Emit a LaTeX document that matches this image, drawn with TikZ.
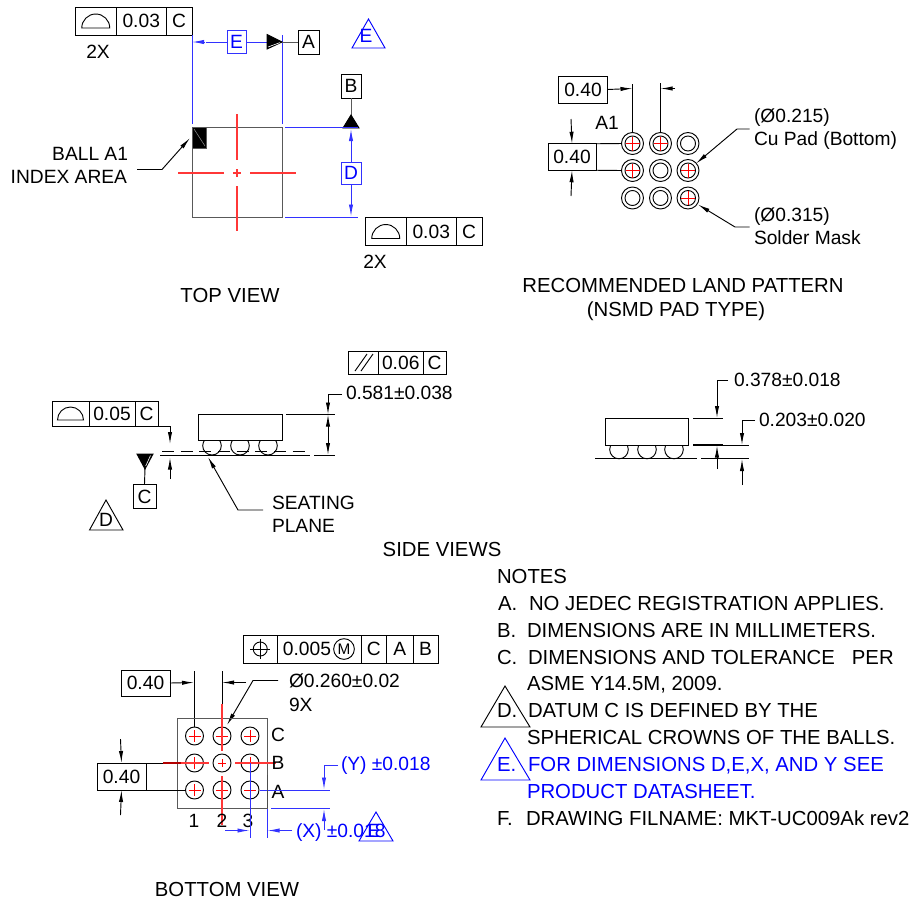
\documentclass[tikz,border=0pt]{standalone}
\usepackage{fontspec}
\setmainfont{Liberation Sans}
\usetikzlibrary{arrows.meta,calc,positioning}
\definecolor{cenred}{RGB}{255,55,55}
\definecolor{dimblue}{RGB}{50,50,255}
\tikzset{
  lbl/.style={font=\fontsize{14.4}{16}\selectfont,text height=10.3pt,text depth=0pt,inner sep=0pt,outer sep=0pt},
  big/.style={font=\fontsize{15.25}{17}\selectfont,text height=10.9pt,text depth=0pt,inner sep=0pt,outer sep=0pt},
  cellw/.style={minimum width=#1*0.75pt},
  cellh/.style={minimum height=#1*0.75pt},
  fcfcell/.style={lbl,draw,anchor=west},
  dimbox/.style={lbl,draw,anchor=center},
  tip/.style={-{Latex[length=9pt,width=3.2pt]}},
  bluedim/.style={draw=dimblue},
  outline/.style={draw=black!65},
  cenline/.style={draw=cenred,line width=0.85pt},
  crossline/.style={draw=red},
  sliver/.style={draw=white,line width=0.45pt},
}
\begin{document}
\begin{tikzpicture}[x=0.75pt,y=-0.75pt,line width=0.7pt]
\useasboundingbox (0,0) rectangle (910,901);
% top view
\coordinate (TopNW) at (192,127.5);
\coordinate (TopNE) at (282,127.5);
\coordinate (TopSW) at (192,217.5);
\coordinate (TopSE) at (282,217.5);
\coordinate (TopC) at (237,173);
\draw[outline] (TopNW) -- (TopNE) -- (TopSE) -- (TopSW) -- cycle;
\draw[cenline] (237,114) -- (237,160) (237,186) -- (237,231) (178,173) -- (224,173) (250,173) -- (296,173)
     ($(TopC)+(-4,0)$) -- ($(TopC)+(4,0)$) ($(TopC)+(0,-4)$) -- ($(TopC)+(0,4)$);
\draw[outline,fill=black] (TopNW) rectangle (206,148);
\draw[black!45,line width=0.4pt] (194,129) -- (205,146);
\node[fcfcell,cellw=41.5,cellh=28] (TopFcfA) at (75,21) {};
\node[fcfcell,cellw=49.5,cellh=28,right=0pt of TopFcfA] (TopFcfB) {0.03};
\node[fcfcell,cellw=26,cellh=28,right=0pt of TopFcfB] (TopFcfC) {C};
\draw ($(TopFcfA.center)+(-14,7)$) arc (180:360:14) -- cycle;
\node[lbl] (TopTwoA) at (98,52) {2X};
\node[dimbox,cellw=19,cellh=22.5,bluedim,text=blue] (DimE) at (236.5,42) {E};
\node[dimbox,cellw=21,cellh=24] (DatumA) at (308.5,42) {A};
\node[dimbox,cellw=20,cellh=24] (DatumB) at (351,86) {B};
\node[dimbox,cellw=20,cellh=22,bluedim,text=blue] (DimD) at (351,173) {D};
\coordinate (ExtEL) at (192,35);
\coordinate (ExtER) at (282,35);
\draw[bluedim] (ExtEL) -- (192,124) (ExtER) -- (282,124);
\draw[bluedim,tip] (205,42) -- (192,42);
\draw[bluedim] (DimE.east) -- (267,42) (206,42) -- (DimE.west);
\draw[fill=black] (267,34.5) -- (282,42) -- (267,49) -- cycle;
\draw[sliver] (268,47) -- (280,42.6);
\draw[outline] (282,42) -- (DatumA.west);
\draw[outline] (DatumB.south) -- (351,116);
\draw[fill=black] (343,128) -- (359,128) -- (351,115) -- cycle;
\draw[bluedim] (285,127.5) -- (358,127.5) (285,217.5) -- (358,217.5);
\draw[bluedim,tip] (351,141) -- (351,129);
\draw[bluedim] (351,141) -- (DimD.north);
\draw[bluedim,tip] (DimD.south) -- (351,216.5);
\draw[color=blue] (352,48) -- (385,48) -- (368.5,19) -- cycle;
\node[lbl,text=blue] (TriTopE) at (366,36) {E};
\node[lbl,anchor=east] (BallA) at (128,154) {BALL A1};
\node[lbl,anchor=east] (BallB) at (127,176.5) {INDEX AREA};
\draw[tip] (137,169.5) -- (162,169.5) -- (190,138);
\node[fcfcell,cellw=41.5,cellh=28] (SideFcfA) at (365,231.5) {};
\node[fcfcell,cellw=49.5,cellh=28,right=0pt of SideFcfA] (SideFcfB) {0.03};
\node[fcfcell,cellw=26,cellh=28,right=0pt of SideFcfB] (SideFcfC) {C};
\draw ($(SideFcfA.center)+(-14,7)$) arc (180:360:14) -- cycle;
\node[lbl] (TopTwoB) at (375,262) {2X};
\node[big] (TopView) at (230,295) {TOP VIEW};
% land pattern
\node[dimbox,cellw=48.5,cellh=27] (LandW) at (583,89.5) {0.40};
\node[dimbox,cellw=48,cellh=26.5] (LandH) at (572,157) {0.40};
\foreach \cx/\cy in {632.5/143.5,660.5/143.5,688/143.5,632.5/170.5,660.5/170.5,688/170.5,632.5/198,660.5/198,688/198}
  \draw (\cx,\cy) circle (11) (\cx,\cy) circle (7.5);
\foreach \cx/\cy in {632.5/143.5,660.5/143.5,632.5/170.5,688/170.5,688/198}
  \draw[crossline] (\cx-7,\cy) -- (\cx+7,\cy) (\cx,\cy-7) -- (\cx,\cy+7);
\draw[tip] (LandW.east) -- (632.5,88.5);
\draw[tip] (675,88.5) -- (660.5,88.5);
\draw (632.5,84) -- (632.5,132.5) (660.5,83) -- (660.5,132.5);
\draw (LandH.north east) -- (621.5,143.5) (LandH.south east) -- (621.5,170.5);
\draw[tip] (571,119) -- (LandH.north);
\draw[tip] (571,196) -- (LandH.south);
\node[lbl] (LandA) at (607,123) {A1};
\node[lbl,anchor=west] (PadA) at (754,116) {(Ø0.215)};
\node[lbl,anchor=west] (PadB) at (754,139) {Cu Pad (Bottom)};
\node[lbl,anchor=west] (MaskA) at (754,215) {(Ø0.315)};
\node[lbl,anchor=west] (MaskB) at (754,238) {Solder Mask};
\draw[tip] (749.5,129) -- (737,129) -- (696,163.5);
\draw[tip] (749.5,227) -- (735,227) -- (698,204.5);
\node[big] (LandTitleA) at (683,285) {RECOMMENDED LAND PATTERN};
\node[big] (LandTitleB) at (676,309) {(NSMD PAD TYPE)};
% side views
\foreach \cx in {212,240,268}
  \draw (\cx,445.7) circle (9.3);
\node[draw,fill=white,minimum width=63pt,minimum height=19.5pt,inner sep=0pt] (BodyA) at (240,427.5) {};
\node[fcfcell,cellw=30.5,cellh=23] (FlatA) at (348,362.5) {};
\node[fcfcell,cellw=44.5,cellh=23,right=0pt of FlatA] (FlatB) {0.06};
\node[fcfcell,cellw=23,cellh=23,right=0pt of FlatB] (FlatC) {C};
\draw (355,371) -- (367,354) (361,371) -- (373,354);
\node[lbl,anchor=west] (HeightA) at (346,393) {0.581±0.038};
\draw[tip] (342,394) -- (328,394) -- (328,414.5);
\draw[tip] (328,434) -- (328,414.5);
\draw[tip] (328,434) -- (328,455);
\draw (286,414.5) -- (335,414.5) (314,455) -- (335,455);
\draw (160,455) -- (310,455);
\draw[dash pattern=on 9pt off 5pt] (162,451) -- (305,451);
\node[fcfcell,cellw=37,cellh=25] (CrownA) at (52,414) {};
\node[fcfcell,cellw=46,cellh=25,right=0pt of CrownA] (CrownB) {0.05};
\node[fcfcell,cellw=23,cellh=25,right=0pt of CrownB] (CrownC) {C};
\draw ($(CrownA.center)+(-13,6)$) arc (180:360:13) -- cycle;
\draw[tip] (CrownC.south east) -- (170,426.5) -- (170,444);
\draw[tip] (170,479) -- (170,457.5);
\draw[fill=black] (137,454) -- (153,454) -- (145,469) -- cycle;
\draw[sliver] (150.5,455.5) -- (145.7,466);
\node[dimbox,cellw=23,cellh=24.5] (DatumC) at (144.5,496.5) {C};
\draw (145,468) -- (DatumC.north);
\draw[tip] (263,510) -- (238,510) -- (208,457);
\node[lbl,anchor=west] (SeatA) at (272,503) {SEATING};
\node[lbl,anchor=west] (SeatB) at (272,526) {PLANE};
\draw (89.5,530) -- (123,530) -- (106,500) -- cycle;
\node[lbl] (TriSideD) at (106,520) {D};
\foreach \cx in {619,647,674}
  \draw (\cx,449.5) circle (9.3);
\node[draw,fill=white,minimum width=62.5pt,minimum height=20pt,inner sep=0pt] (BodyB) at (647,431.7) {};
\draw (595,458.5) -- (697,458.5);
\draw (693,418.5) -- (723,418.5) (701,458.5) -- (749,458.5);
\draw (693,445) -- (749,445);
\draw[line width=1.1pt] (693,445) -- (723,445);
\node[lbl,anchor=west] (ThickA) at (734,380) {0.378±0.018};
\node[lbl,anchor=west] (ThickB) at (759,420) {0.203±0.020};
\draw[tip] (728,380) -- (717,380) -- (717,418);
\draw[tip] (717,469) -- (717,445.5);
\draw[tip] (755,420) -- (742,420) -- (742,445);
\draw[tip] (742,485) -- (742,459);
\node[big] (SideViews) at (442,549) {SIDE VIEWS};
% bottom view
\node[fcfcell,cellw=34.5,cellh=28] (PosA) at (243,649) {};
\node[fcfcell,cellw=83.5,cellh=28,right=0pt of PosA] (PosB) {};
\node[fcfcell,cellw=25.5,cellh=28,right=0pt of PosB] (PosC) {C};
\node[fcfcell,cellw=26.5,cellh=28,right=0pt of PosC] (PosD) {A};
\node[fcfcell,cellw=25,cellh=28,right=0pt of PosD] (PosE) {B};
\draw (PosA.center) circle (7);
\draw ($(PosA.center)+(-10,0)$) -- ($(PosA.center)+(10,0)$) ($(PosA.center)+(0,-10)$) -- ($(PosA.center)+(0,10)$);
\node[lbl] (PosVal) at (307,649) {0.005};
\node[lbl,draw,circle,minimum size=15.5pt,font=\fontsize{11.5}{13}\selectfont,text height=8.2pt] (PosM) at (344,649) {M};
\node[dimbox,cellw=49,cellh=26] (BotW) at (145.5,683) {0.40};
\node[dimbox,cellw=49,cellh=27] (BotH) at (121.5,776.5) {0.40};
\draw[tip] (BotW.east) -- (194,682.5);
\draw[tip] (246,682.5) -- (222,682.5);
\draw (194,671) -- (194,727) (222,671) -- (222,705);
\node[lbl,anchor=west] (BallDia) at (289,681) {Ø0.260±0.02};
\node[lbl,anchor=west] (BallNine) at (289,705) {9X};
\draw[tip] (278,680.5) -- (253,680.5) -- (227,725);
\draw[outline] (177,718) rectangle (267,808);
\draw (BotH.north east) -- (163,763) (BotH.south east) -- (185,790);
\draw[tip] (120.5,739) -- (BotH.north);
\draw[tip] (120.5,815) -- (BotH.south);
\draw[draw=red!70!black,line width=1pt] (163,763) -- (181,763);
\foreach \cx/\cy in {194.5/736,222/736,250/736,194.5/763,222/763,250/763,194.5/790,222/790,250/790}
  \draw (\cx,\cy) circle (9);
\foreach \cx/\cy in {194.5/736,222/736,250/736,194.5/763,250/763,194.5/790,222/790,250/790}
  \draw[crossline] (\cx-6,\cy) -- (\cx+6,\cy) (\cx,\cy-6) -- (\cx,\cy+6);
\draw[cenline] (222,704) -- (222,751) (222,776) -- (222,825) (181,763) -- (209,763) (235,763) -- (276,763);
\draw[crossline] (218,763) -- (226,763) (222,759) -- (222,767);
\node[lbl] (RowC) at (278,735) {C};
\node[lbl] (RowB) at (278,763) {B};
\node[lbl] (RowA) at (278,792) {A};
\node[lbl] (ColA) at (194,821) {1};
\node[lbl] (ColB) at (222,821) {2};
\node[lbl] (ColC) at (248,821) {3};
\draw[bluedim] (260,790.5) -- (330,790.5) (271,808) -- (330,808) (250,763) -- (250,838);
\draw[bluedim] (267,809) -- (267,838);
\draw[black!70] (267,775) -- (267,808);
\node[lbl,anchor=west,text=blue] (TolY) at (341,764) {(Y) ±0.018};
\node[lbl,anchor=west,text=blue] (TolX) at (296,831) {(X) ±0.018};
\draw[tip,bluedim] (338,765) -- (324,765) -- (324,789.5);
\draw[tip,bluedim] (324,830) -- (324,809);
\draw[tip,bluedim] (225,830.5) -- (249.5,830.5);
\draw[tip,bluedim] (292,830.5) -- (267.5,830.5);
\draw[color=blue] (359,841) -- (393,841) -- (376,812) -- cycle;
\node[lbl,text=blue] (TriBotE) at (374,831) {E};
\node[big] (BotView) at (227,889) {BOTTOM VIEW};
% notes
\node[big,anchor=west] (NoteHead) at (497,576) {NOTES};
\node[big,anchor=west] (NoteA) at (498,603) {A.};
\node[big,anchor=west] (NoteATxt) at (529,603) {NO JEDEC REGISTRATION APPLIES.};
\node[big,anchor=west] (NoteB) at (497,630) {B.};
\node[big,anchor=west] (NoteBTxt) at (527,630) {DIMENSIONS ARE IN MILLIMETERS.};
\node[big,anchor=west] (NoteC) at (497,657) {C.};
\node[big,anchor=west] (NoteCTxt) at (528,657) {DIMENSIONS AND TOLERANCE \ \ PER};
\node[big,anchor=west] (NoteCTwo) at (527,683) {ASME Y14.5M, 2009.};
\node[big,anchor=west] (NoteD) at (497,710) {D.};
\node[big,anchor=west] (NoteDTxt) at (528,710) {DATUM C IS DEFINED BY THE};
\node[big,anchor=west] (NoteDTwo) at (527,737) {SPHERICAL CROWNS OF THE BALLS.};
\node[big,anchor=west,text=blue] (NoteE) at (497,764) {E.};
\node[big,anchor=west,text=blue] (NoteETxt) at (528,764) {FOR DIMENSIONS D,E,X, AND Y SEE};
\node[big,anchor=west,text=blue] (NoteETwo) at (527,791) {PRODUCT DATASHEET.};
\node[big,anchor=west] (NoteF) at (497,818) {F.};
\node[big,anchor=west] (NoteFTxt) at (526,818) {DRAWING FILNAME: MKT-UC009Ak rev2};
\draw (481,727) -- (530,727) -- (505,686) -- cycle;
\draw[color=blue] (481,780) -- (530,780) -- (505,738) -- cycle;
\end{tikzpicture}
\end{document}
